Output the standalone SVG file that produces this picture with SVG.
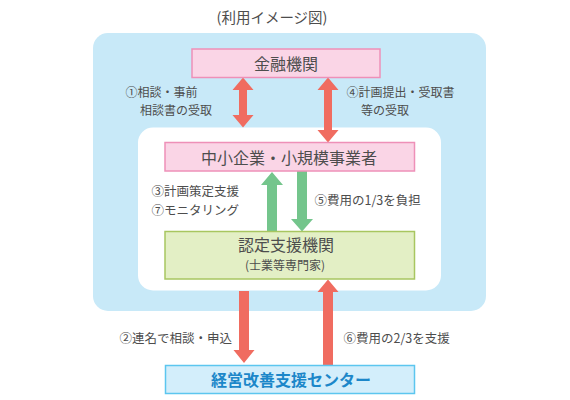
<svg xmlns="http://www.w3.org/2000/svg" width="570" height="400" viewBox="0 0 570 400">
<style>
text{font-family:"Noto Sans CJK JP","Noto Sans",sans-serif;fill:#4d4d4d}
.lbl{font-size:12.5px}
.lbl2{font-size:12px}
.box{font-size:16px;text-anchor:middle}
.pink{fill:#fad5e6;stroke:#ee90b8;stroke-width:1.5}
.red{fill:#f06c60}
.green{fill:#74c58c}
</style>
<rect width="570" height="400" fill="#ffffff"/>
<text x="272" y="23" style="font-size:14.5px" text-anchor="middle">(利用イメージ図)</text>
<rect x="93" y="33" width="393" height="278" rx="15" fill="#c8e9f8"/>
<rect x="138" y="127.5" width="303" height="163" rx="15" fill="#ffffff"/>
<g id="connectors">
<polygon class="red" points="243,77.5 253.5,90 247,90 247,115 253.5,115 243,127.5 232.5,115 239,115 239,90 232.5,90"/>
<polygon class="red" points="328,77.5 338.5,90 332,90 332,130 338.5,130 328,142.5 317.5,130 324,130 324,90 317.5,90"/>
<polygon class="green" points="272,172 283,185 277,185 277,231.5 267,231.5 267,185 261,185"/>
<polygon class="green" points="297,171 307,171 307,219 313,219 302,231.5 291,219 297,219"/>
<polygon class="red" points="239,291 249,291 249,350 254.5,350 244,363 233.5,350 239,350"/>
<polygon class="red" points="328,279.5 338.5,292 333,292 333,365.5 323,365.5 323,292 317.5,292"/>
</g>
<g id="kinyu">
<rect class="pink" x="192" y="49" width="188" height="28.5"/>
<text class="box" x="286" y="69.5">金融機関</text>
</g>
<g id="chusho">
<rect class="pink" x="165" y="142.5" width="249.5" height="28.5"/>
<text class="box" x="289" y="163.5">中小企業・小規模事業者</text>
</g>
<g id="nintei">
<rect x="165" y="231.5" width="249.5" height="47.5" fill="#e3efc5" stroke="#a8c660" stroke-width="1.5"/>
<text class="box" x="286" y="250.5">認定支援機関</text>
<text x="285" y="270" style="font-size:12px" text-anchor="middle">(士業等専門家)</text>
</g>
<g id="center">
<rect x="165.5" y="365.5" width="249" height="28" fill="#d3eefb" stroke="#5cc6ef" stroke-width="1.5"/>
<text class="box" x="291" y="386" style="font-weight:bold;fill:#1c87c9">経営改善支援センター</text>
</g>
<g id="labels">
<text class="lbl2" x="125.5" y="97">①相談・事前</text>
<text class="lbl2" x="140" y="114.5">相談書の受取</text>
<text class="lbl2" x="346.5" y="97">④計画提出・受取書</text>
<text class="lbl2" x="361" y="114.5">等の受取</text>
<text class="lbl" x="151.5" y="196">③計画策定支援</text>
<text class="lbl" x="151.5" y="215">⑦モニタリング</text>
<text class="lbl" x="314.5" y="205">⑤費用の1/3を負担</text>
<text class="lbl" x="119.5" y="343">②連名で相談・申込</text>
<text class="lbl" x="343.5" y="343">⑥費用の2/3を支援</text>
</g>
</svg>
